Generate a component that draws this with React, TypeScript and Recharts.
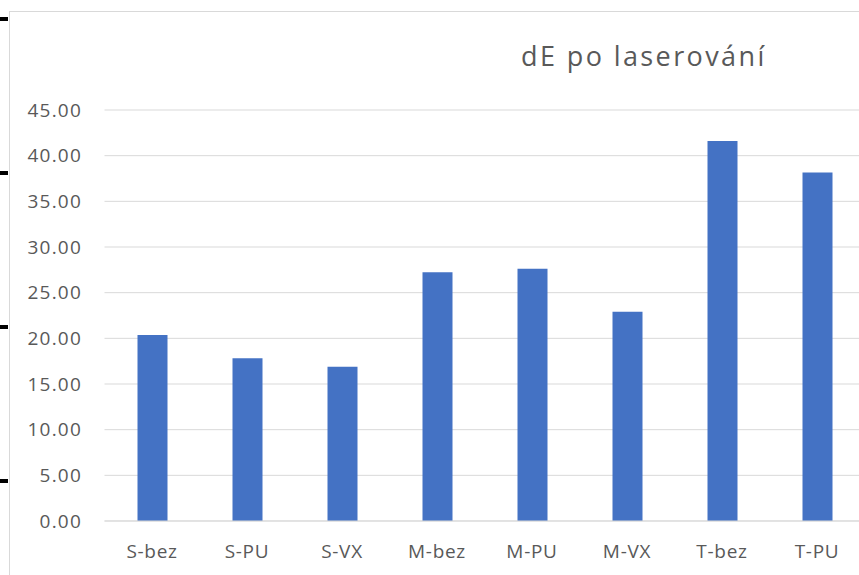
import React from "react";
import { BarChart, Bar, XAxis, YAxis, CartesianGrid } from "recharts";

const categories = ["S-bez", "S-PU", "S-VX", "M-bez", "M-PU", "M-VX", "T-bez", "T-PU"];
const dEValues = [20.37, 17.81, 16.9, 27.23, 27.63, 22.92, 41.6, 38.17];
const yTicks = [0, 5, 10, 15, 20, 25, 30, 35, 40, 45];
const titleText = "dE po laserování";

const data = categories.map((c, i) => ({ name: c, value: dEValues[i] }));

const FONT = "'Open Sans', 'DejaVu Sans', sans-serif";
const markTops = [17, 171, 325, 479];

export default function App() {
  return (
    <div
      style={{
        position: "absolute",
        left: 0,
        top: 0,
        width: 859,
        height: 575,
        overflow: "hidden",
        background: "#ffffff",
      }}
    >
      {markTops.map((t) => (
        <div
          key={t}
          style={{ position: "absolute", left: 0, top: t, width: 8, height: 4, background: "#000" }}
        />
      ))}
      <div
        style={{
          position: "absolute",
          left: 9,
          top: 11,
          width: 1000,
          height: 1000,
          border: "1px solid #d9d9d9",
          boxSizing: "border-box",
        }}
      />
      <div
        style={{
          position: "absolute",
          left: 521,
          top: 35.5,
          fontFamily: FONT,
          fontSize: 27,
          letterSpacing: "2.4px",
          color: "#595959",
          whiteSpace: "nowrap",
          lineHeight: "40px",
        }}
      >
        {titleText}
      </div>
      <div style={{ position: "absolute", left: 0, top: 0 }}>
        <BarChart
          width={880}
          height={575}
          data={data}
          margin={{ top: 110, right: 15.5, bottom: 24, left: 0 }}
          barCategoryGap="68.5%"
        >
          <CartesianGrid horizontal vertical={false} stroke="#d9d9d9" strokeWidth={1} />
          <XAxis
            dataKey="name"
            axisLine={{ stroke: "#d9d9d9" }}
            tickLine={false}
            tickSize={0}
            tickMargin={24}
            height={30}
            tick={{ fill: "#595959", fontSize: 19, fontFamily: FONT, letterSpacing: "0.7px" }}
            interval={0}
          />
          <YAxis
            domain={[0, 45]}
            ticks={yTicks}
            width={104.5}
            axisLine={false}
            tickLine={false}
            tickSize={0}
            tickMargin={22.5}
            tickFormatter={(v: number) => v.toFixed(2)}
            tick={{ fill: "#595959", fontSize: 19, fontFamily: FONT, letterSpacing: "1.2px" }}
            interval={0}
          />
          <Bar dataKey="value" fill="#4472C4" barSize={30} isAnimationActive={false} />
        </BarChart>
      </div>
    </div>
  );
}
